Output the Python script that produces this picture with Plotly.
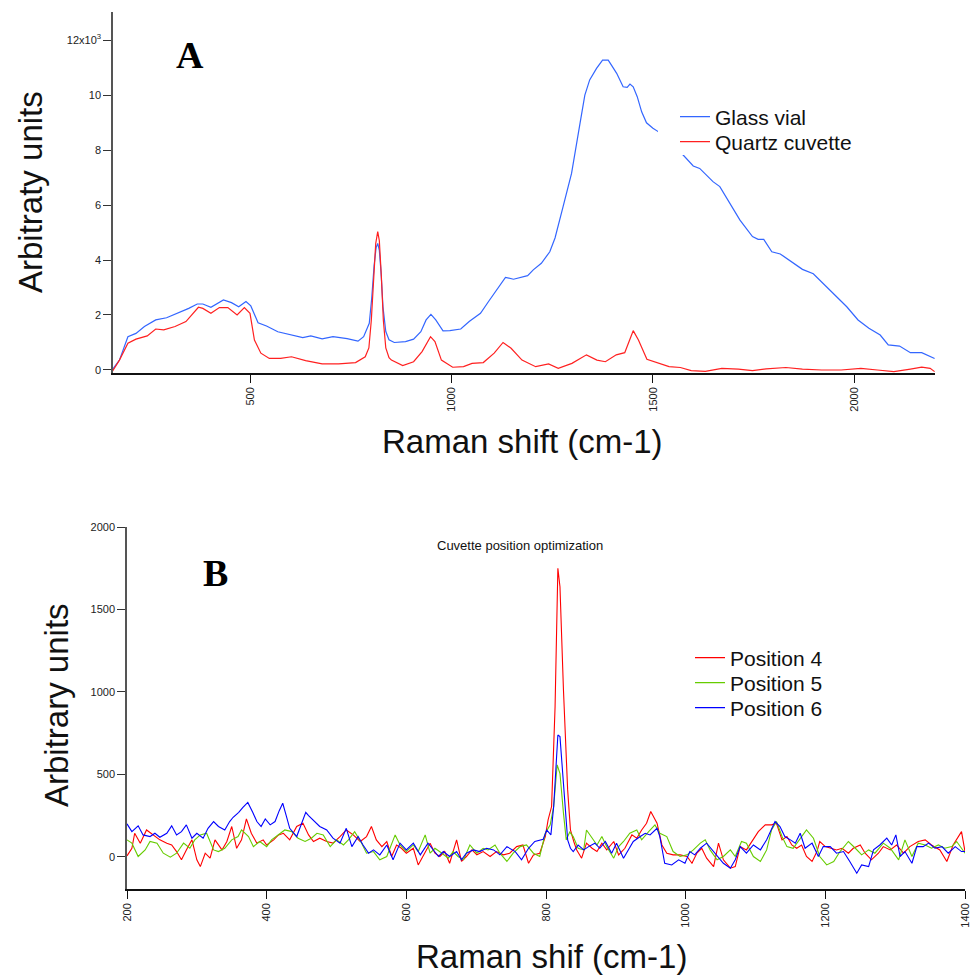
import plotly.graph_objects as go

W, H = 970, 976

# ---------------- Panel A data (y in thousands) ----------------
glass_x = [158, 176, 197, 217, 238, 266, 293, 321, 348, 369, 383, 403, 434, 454, 472, 490, 502, 520, 541, 569,
           603, 631, 651, 679, 706, 741, 768, 782, 796, 802, 808, 813, 817, 821, 825, 830, 837, 845, 858, 886,
           906, 924, 937, 949, 961, 979, 996, 1023, 1044, 1072, 1092, 1113, 1134, 1154, 1189, 1203, 1223, 1244,
           1257, 1277, 1298, 1319, 1331, 1343, 1360, 1375, 1389, 1397, 1410, 1426, 1436, 1443, 1451, 1461, 1472,
           1484, 1500, 1513, 1545, 1575, 1600, 1616, 1649, 1666, 1691, 1716, 1747, 1761, 1775, 1795, 1816, 1843,
           1871, 1898, 1919, 1947, 1981, 2009, 2036, 2064, 2084, 2112, 2139, 2167, 2199]
glass_y = [0.0, 0.36, 1.21, 1.33, 1.58, 1.82, 1.90, 2.06, 2.24, 2.40, 2.40, 2.28, 2.55, 2.45, 2.30, 2.49, 2.33, 1.72, 1.60, 1.39,
           1.27, 1.18, 1.24, 1.13, 1.21, 1.14, 1.05, 1.21, 1.70, 2.60, 3.80, 4.45, 4.60, 4.35, 3.60, 2.30, 1.40, 1.10, 1.00, 1.03,
           1.12, 1.39, 1.82, 2.02, 1.82, 1.42, 1.43, 1.49, 1.76, 2.06, 2.49, 2.91, 3.37, 3.30, 3.43, 3.64, 3.88, 4.30,
           4.80, 5.94, 7.15, 8.97, 10.0, 10.55, 10.97, 11.27, 11.27, 11.09, 10.79, 10.30, 10.28, 10.40, 10.30, 9.94, 9.39,
           8.99, 8.79, 8.67, 8.20, 7.82, 7.42, 7.33, 6.85, 6.67, 6.06, 5.45, 4.85, 4.75, 4.75, 4.30, 4.22, 3.94,
           3.66, 3.50, 3.21, 2.79, 2.30, 1.82, 1.52, 1.27, 0.91, 0.87, 0.63, 0.63, 0.42]

quartz_x = [158, 176, 197, 217, 245, 266, 286, 314, 341, 355, 372, 383, 403, 424, 445, 468, 486, 500, 511, 527,
            548, 576, 603, 638, 679, 720, 762, 786, 795, 801, 807, 812, 817, 821, 826, 831, 837, 845, 851, 879,
            906, 927, 948, 959, 975, 1003, 1030, 1051, 1079, 1106, 1128, 1148, 1175, 1209, 1241, 1265, 1299, 1335,
            1361, 1382, 1409, 1430, 1451, 1464, 1485, 1513, 1540, 1568, 1595, 1630, 1671, 1712, 1747, 1781, 1830,
            1871, 1919, 1967, 2016, 2057, 2098, 2139, 2167, 2188, 2199]
quartz_y = [-0.06, 0.36, 0.97, 1.12, 1.24, 1.49, 1.46, 1.58, 1.76, 2.00, 2.28, 2.24, 2.06, 2.27, 2.27, 2.00, 2.27, 2.06, 1.09, 0.61,
            0.42, 0.42, 0.48, 0.34, 0.22, 0.22, 0.27, 0.48, 0.80, 1.80, 3.40, 4.60, 5.03, 4.70, 3.40, 1.80, 0.80, 0.45, 0.36, 0.16,
            0.30, 0.67, 1.21, 1.03, 0.36, 0.10, 0.12, 0.24, 0.27, 0.61, 1.00, 0.79, 0.36, 0.12, 0.22, 0.06, 0.24, 0.55,
            0.36, 0.30, 0.55, 0.63, 1.43, 1.09, 0.39, 0.24, 0.12, 0.09, -0.02, -0.05, 0.06, 0.03, -0.02, 0.04, 0.09,
            0.03, 0.0, 0.0, 0.06, 0.0, -0.06, 0.03, 0.10, 0.06, -0.06]

a_yticks = [0, 2, 4, 6, 8, 10, 12]
a_yticktext = ["0", "2", "4", "6", "8", "10", "12x10<sup>3</sup>"]
a_xticks = [500, 1000, 1500, 2000]

# ---------------- Panel B data ----------------
pos4_x = [200, 207, 211, 219, 228, 238, 247, 257, 264, 271, 278, 285, 293, 300, 305, 312, 319, 326, 336, 343,
          350, 357, 364, 371, 378, 386, 395, 400, 410, 417, 424, 433, 443, 452, 460, 467, 476, 486, 495, 505,
          514, 524, 534, 543, 550, 557, 565, 572, 579, 586, 593, 600, 610, 617, 624, 634, 641, 648, 655, 662,
          672, 679, 686, 694, 701, 710, 720, 729, 739, 748, 758, 767, 775, 782, 791, 799, 803, 808, 813, 817,
          820, 825, 831, 835, 840, 844, 851, 858, 866, 873, 880, 887, 897, 904, 913, 923, 930, 937, 944, 950,
          959, 966, 973, 982, 992, 1002, 1009, 1016, 1023, 1030, 1040, 1047, 1054, 1064, 1071, 1078, 1087, 1097,
          1104, 1114, 1123, 1130, 1138, 1145, 1152, 1159, 1166, 1173, 1181, 1188, 1192, 1200, 1207, 1216, 1224,
          1233, 1240, 1250, 1257, 1266, 1276, 1283, 1293, 1302, 1312, 1321, 1333, 1343, 1352, 1364, 1374, 1383,
          1395, 1400]
pos4_y = [6, 52, 143, 83, 163, 133, 103, 83, 72, 32, -18, 42, 103, -18, -59, 22, -8, 103, 42, 93,
          184, 52, 103, 230, 143, 83, 103, 72, 103, 133, 143, 103, 184, 204, 133, 93, 113, 93, 83, 123,
          163, 133, 93, 123, 184, 103, 62, 93, 2, 72, 52, 22, 52, -49, 2, 83, 22, 2, 32, -39,
          103, -28, 2, 42, 12, 32, 2, 32, 12, 22, 62, 72, -39, 12, 22, 123, 224, 305, 911, 1750,
          1638, 1012, 406, 164, 90, 42, -8, 83, 52, 32, 83, 42, 93, 12, 52, 133, 113, 163, 204, 275,
          204, 72, 22, 12, 12, 2, -39, 22, 52, -8, -59, 83, -18, -69, -59, 62, 42, 103,
          153, 194, 194, 204, 103, 123, 72, 52, 72, 2, -28, 32, 93, 62, 52, 42, 52,
          22, 52, 72, 22, -18, 22, 62, 42, 72, 22, 62, 93, 103, 72, 42, -28, 72,
          153, 32]

pos5_x = [200, 207, 216, 226, 233, 243, 252, 262, 271, 281, 290, 297, 305, 314, 324, 331, 340, 350, 359, 364,
          374, 381, 390, 400, 407, 417, 426, 436, 445, 455, 464, 472, 481, 491, 500, 510, 517, 526, 536, 543,
          553, 562, 572, 584, 591, 600, 610, 617, 627, 634, 641, 651, 660, 667, 674, 682, 691, 701, 710, 717,
          727, 734, 744, 753, 763, 772, 782, 791, 799, 806, 811, 816, 820, 825, 829, 834, 839, 846, 854, 858,
          866, 873, 880, 887, 897, 904, 911, 920, 930, 937, 947, 956, 963, 973, 982, 992, 1002, 1011, 1021, 1028,
          1035, 1045, 1054, 1064, 1071, 1080, 1087, 1097, 1107, 1116, 1123, 1130, 1138, 1145, 1154, 1164, 1173,
          1183, 1192, 1202, 1212, 1221, 1233, 1243, 1252, 1262, 1271, 1283, 1293, 1305, 1314, 1324, 1333, 1343,
          1352, 1362, 1371, 1381, 1388, 1395, 1400]
pos5_y = [103, 83, 2, 42, 93, 83, 22, -2, 22, 83, 52, 103, 133, 143, 42, 32, 52, 103, 123, 163,
          123, 62, 93, 62, 103, 133, 163, 153, 113, 93, 113, 143, 133, 62, 103, 72, 103, 153, 83, 22,
          32, -18, 2, 133, 72, 32, 72, 32, 133, 22, 52, 22, -8, 32, 2, -18, 72, 22, 52, 42,
          72, 22, -28, 22, 62, 72, 22, 2, 143, 194, 305, 558, 505, 265, 103, 150, 123, 52, 42, 163,
          113, 72, 123, 62, -8, 62, 93, 143, 163, 103, 153, 194, 143, 123, 32, 2, 12, 42, 83, 103,
          42, -18, 2, 42, 2, 93, 83, 2, -28, 42, 163, 214, 123, 62, 52, 113, 163,
          113, 2, -49, -28, 32, 93, 52, 12, 42, 22, 83, 52, -18, 103, 2, 83, 72,
          52, 72, 52, 62, 93, 52, 22]

pos6_x = [200, 207, 216, 223, 233, 240, 247, 257, 264, 271, 278, 285, 293, 300, 309, 316, 324, 331, 340, 347,
          352, 360, 366, 373, 380, 386, 392, 398, 405, 412, 418, 423, 428, 433, 443, 450, 456, 460, 469, 476,
          486, 495, 505, 514, 522, 531, 538, 546, 553, 562, 572, 581, 591, 600, 610, 620, 631, 639, 646, 653,
          662, 672, 679, 686, 696, 705, 715, 725, 734, 744, 756, 765, 775, 784, 791, 796, 801, 807, 811, 817,
          820, 823, 827, 831, 835, 839, 846, 854, 861, 870, 877, 885, 894, 901, 911, 918, 925, 935, 942, 949,
          959, 963, 970, 980, 990, 999, 1006, 1013, 1021, 1030, 1040, 1047, 1054, 1064, 1071, 1078, 1087, 1097,
          1107, 1116, 1123, 1128, 1135, 1142, 1150, 1157, 1164, 1171, 1181, 1190, 1197, 1207, 1216, 1226, 1235,
          1245, 1252, 1262, 1269, 1278, 1288, 1295, 1301, 1307, 1314, 1324, 1331, 1340, 1348, 1357, 1367, 1376,
          1386, 1395, 1400]
pos6_y = [200, 153, 188, 133, 123, 143, 119, 143, 188, 133, 153, 194, 113, 143, 113, 173, 214, 184, 163, 214,
          240, 270, 300, 330, 270, 214, 184, 230, 194, 214, 280, 325, 250, 173, 123, 204, 270, 250, 214, 184,
          163, 113, 83, 173, 62, 123, 72, 22, 42, 12, 72, -18, 83, 42, 83, 12, 83, 42, 2, 32,
          2, 32, -18, 22, 42, 32, 52, 42, 12, 62, 32, -18, 52, 93, 103, 107, 163, 133, 305, 739,
          729, 547, 327, 103, 52, 32, 72, 42, 62, 83, 52, 93, 22, 83, -8, 42, 93, 123, 143, 133,
          173, 123, -39, -49, -18, -39, 32, 12, 52, 83, 32, -8, -39, -69, -18, 62, 22, 72,
          42, 103, 163, 214, 184, 123, 103, 83, 143, 52, 83, 2, 62, 62, 22, 32, -28,
          -99, -49, -59, 42, 72, 113, 72, 133, 2, 32, -39, 62, 62, 83, 52, 62, 22,
          62, 32, 32]

b_xticks = [200, 400, 600, 800, 1000, 1200, 1400]
b_yticks = [0, 500, 1000, 1500, 2000]

# ---------------- Figure ----------------
FONT = "Arial, 'Liberation Sans', Helvetica, sans-serif"
SERIF = "'Times New Roman', 'Liberation Serif', serif"


def px(v):
    return v / W


def py(v):
    return 1 - v / H


fig = go.Figure()
series = [
    (glass_x, glass_y, "Glass vial", "#3366FF", 1.2, "x", "y", "legend"),
    (quartz_x, quartz_y, "Quartz cuvette", "#FF2020", 1.2, "x", "y", "legend2"),
    (pos4_x, pos4_y, "Position 4", "#FF0000", 1.1, "x2", "y2", "legend3"),
    (pos5_x, pos5_y, "Position 5", "#66CC00", 1.1, "x2", "y2", "legend4"),
    (pos6_x, pos6_y, "Position 6", "#0000FF", 1.1, "x2", "y2", "legend5"),
]
for xs, ys, name, col, lw, xa, ya, lg in series:
    fig.add_trace(go.Scatter(x=xs, y=ys, mode="lines", name=name,
                             line=dict(color=col, width=lw), xaxis=xa, yaxis=ya, legend=lg))

axis_common = dict(showgrid=False, zeroline=False, showline=True, ticks="outside", ticklen=8,
                   tickwidth=1.2, automargin=False, ticklabeloverflow="allow",
                   tickfont=dict(family=FONT, size=11, color="#222"))

LEG_OFF = 40  # distance from legend x to start of its text
leg_font = dict(family=FONT, size=21, color="#111")


def legend_at(text_x, row_y):
    return dict(x=px(text_x - LEG_OFF), y=py(row_y), xanchor="left", yanchor="middle",
                bgcolor="rgba(255,255,255,0)", font=leg_font, borderwidth=0)


fig.update_layout(
    width=W, height=H,
    template="none",
    margin=dict(l=0, r=0, t=0, b=0, pad=0, autoexpand=False),
    paper_bgcolor="white", plot_bgcolor="white",
    font=dict(family=FONT, color="#111"),
    xaxis=dict(domain=[px(113), px(935)], range=[160, 2200], anchor="y",
               tickvals=a_xticks, tickangle=-90, linecolor="#111", linewidth=1.5, tickcolor="#111",
               **axis_common),
    yaxis=dict(domain=[py(373), py(12)], range=[-0.11, 13.02], anchor="x",
               tickvals=a_yticks, ticktext=a_yticktext, linecolor="#555", linewidth=1.5, tickcolor="#333",
               **axis_common),
    xaxis2=dict(domain=[px(127), px(965)], range=[200, 1400], anchor="y2",
                tickvals=b_xticks, tickangle=-90, linecolor="#111", linewidth=1.5, tickcolor="#111",
                **axis_common),
    yaxis2=dict(domain=[py(889), py(527)], range=[-195, 2000], anchor="x2",
                tickvals=b_yticks, linecolor="#555", linewidth=1.5, tickcolor="#333",
                **axis_common),
    legend=legend_at(715, 117),
    legend2=legend_at(715, 142),
    legend3=legend_at(730, 658),
    legend4=legend_at(730, 683),
    legend5=legend_at(730, 708),
    showlegend=True,
)

# white legend backdrop in panel A (covers the curve behind the key, as in the original)
fig.add_shape(type="rect", xref="paper", yref="paper", layer="above",
              x0=px(658), x1=px(875), y0=py(155), y1=py(104),
              fillcolor="white", line=dict(width=0))

ann = [
    dict(text="<b>A</b>", x=px(190), y=py(55), font=dict(family=SERIF, size=38, color="#000")),
    dict(text="<b>B</b>", x=px(215), y=py(573), font=dict(family=SERIF, size=38, color="#000")),
    dict(text="Cuvette position optimization", x=px(520), y=py(545), font=dict(family=FONT, size=13, color="#111")),
    dict(text="Raman shift (cm-1)", x=px(522), y=py(441), font=dict(family=FONT, size=33, color="#111")),
    dict(text="Raman shif (cm-1)", x=px(551), y=py(956), font=dict(family=FONT, size=33, color="#111")),
    dict(text="Arbitraty units", x=px(30), y=py(192), textangle=-90, font=dict(family=FONT, size=33, color="#111")),
    dict(text="Arbitrary units", x=px(56), y=py(705), textangle=-90, font=dict(family=FONT, size=33, color="#111")),
]
for a in ann:
    fig.add_annotation(xref="paper", yref="paper", showarrow=False, xanchor="center", yanchor="middle", **a)

# remove the browser's default page margin so the 970x976 figure fills the window exactly
fig.write_html("out.html", config={"displayModeBar": False},
               post_script="document.body.style.margin='0';document.body.style.overflow='hidden';")
